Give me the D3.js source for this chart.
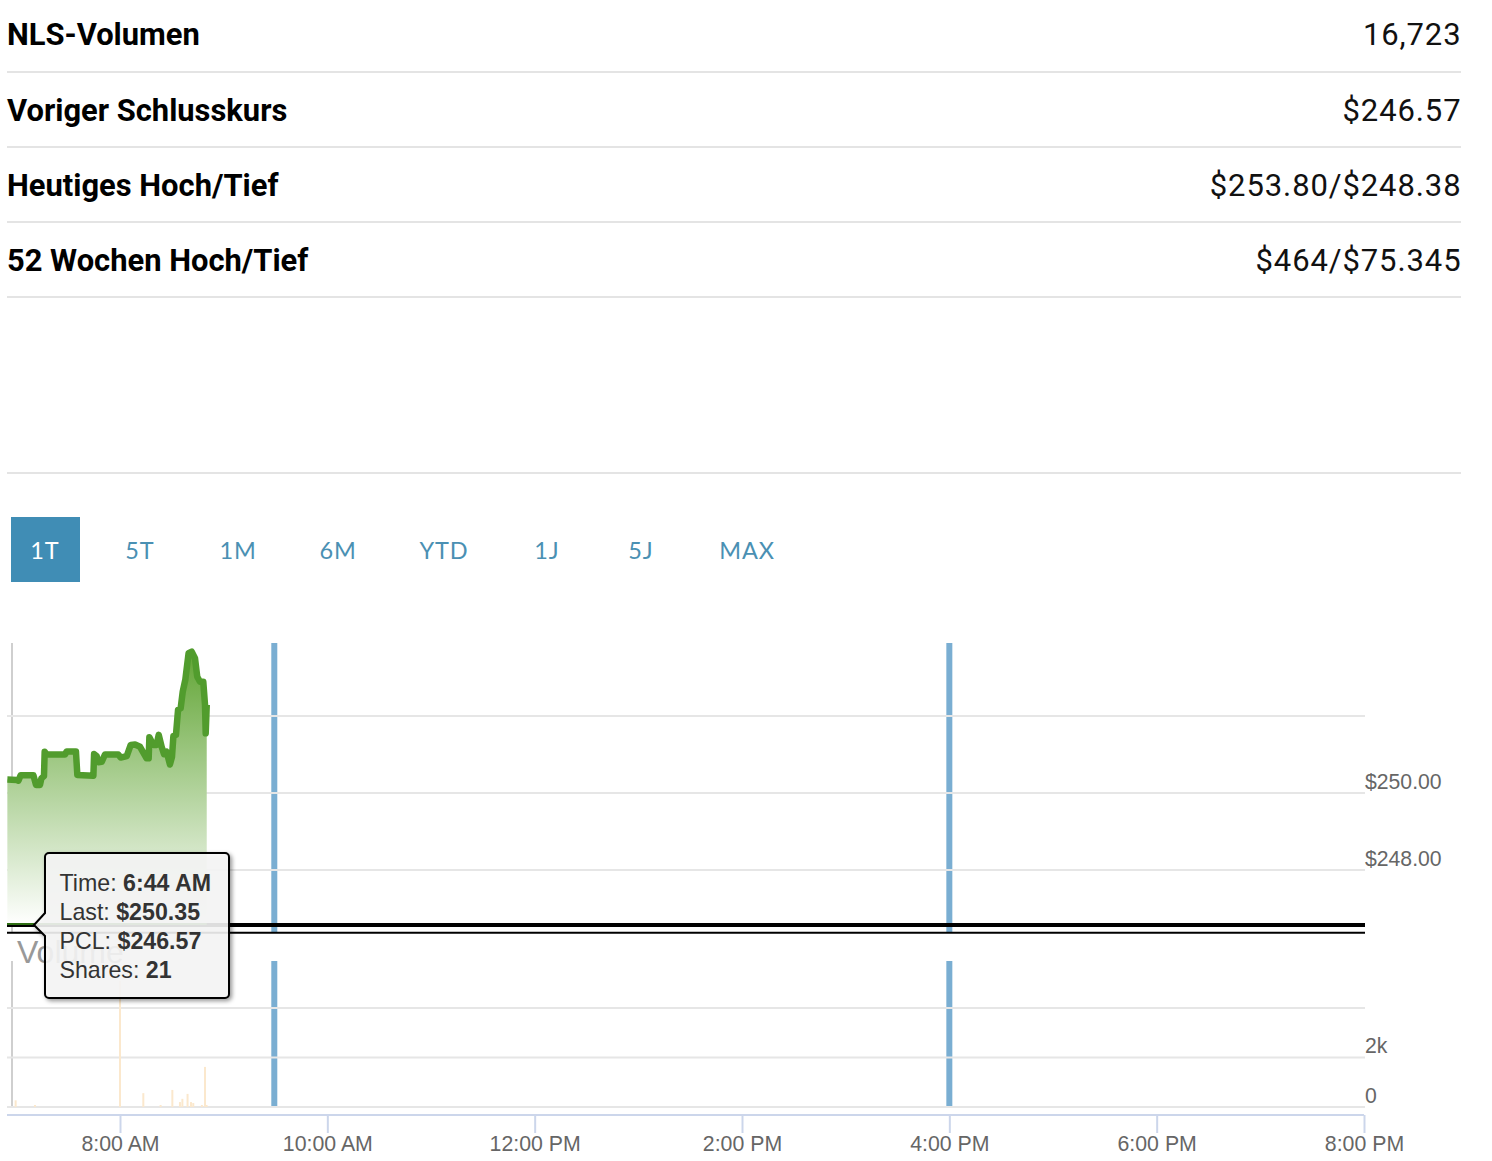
<!DOCTYPE html>
<html>
<head>
<meta charset="utf-8">
<script src="https://cdn.jsdelivr.net/npm/d3@7"></script>
<style>
  html, body { margin: 0; padding: 0; background: #fff; }
  svg { display: block; }
</style>
</head>
<body>
<svg id="chart" width="1492" height="1161"></svg>
<script>
(() => {
  const STAT_LABELS = ["NLS-Volumen", "Voriger Schlusskurs", "Heutiges Hoch/Tief", "52 Wochen Hoch/Tief"];
  const STAT_VALUES = ["16,723", "$246.57", "$253.80/$248.38", "$464/$75.345"];
  const TABS = ["1T", "5T", "1M", "6M", "YTD", "1J", "5J", "MAX"];

  // minutes since midnight
  const PRICE_TIMES = [414.8, 420.2, 421.2, 422.5, 429.9, 431.4, 433.7, 434.5, 436.0, 436.4, 437.6, 448.2, 449.1,
    454.5, 455.3, 464.6, 465.0, 466.5, 467.5, 469.4, 471.3, 479.0, 480.4, 483.9, 486.2, 488.7, 491.6, 495.4, 496.6,
    497.0, 499.3, 501.2, 502.4, 504.1, 505.5, 507.0, 508.9, 510.1, 510.9, 512.4, 513.6, 515.1, 516.3, 517.8, 519.7,
    521.5, 523.4, 524.7, 526.3, 528.2, 529.2, 529.6, 530.2];
  const PRICES = [250.35, 250.34, 250.32, 250.46, 250.46, 250.21, 250.21, 250.38, 250.44, 251.07, 251.00, 251.00, 251.08,
    251.08, 250.47, 250.45, 251.01, 250.96, 250.80, 250.81, 251.00, 251.00, 250.92, 250.96, 251.25, 251.26, 251.20, 250.90, 250.90,
    251.45, 251.25, 251.25, 251.51, 251.20, 251.01, 251.07, 250.74, 250.94, 251.48, 251.51, 252.16, 252.20, 252.63, 252.94, 253.63,
    253.67, 253.50, 253.02, 252.89, 252.89, 252.29, 251.55, 252.29];

  const VOLUME_TIMES = [419.6, 430.8, 480, 493.5, 503.5, 510.3, 514.7, 516.1, 519.1, 521.1, 522.4, 527.4, 529.2, 530.1];
  const VOLUMES = [270, 80, 5100, 560, 80, 690, 200, 330, 530, 200, 160, 80, 1620, 80];

  const TIME_TICKS = [480, 600, 720, 840, 960, 1080, 1200];
  const TIME_LABELS = ["8:00 AM", "10:00 AM", "12:00 PM", "2:00 PM", "4:00 PM", "6:00 PM", "8:00 PM"];
  const PRICE_GRID = [252, 250, 248];
  const PRICE_LABELS = [250, 248];
  const VOLUME_GRID = [4000, 2000, 0];
  const VOLUME_LABELS = [2000, 0];
  const SESSION_LINES = [570, 960];
  const PREV_CLOSE = 246.57;
  const PRICE_FLOOR = 246.37;
  const TOOLTIP_ROWS = [["Time: ", "6:44 AM"], ["Last: ", "$250.35"], ["PCL: ", "$246.57"], ["Shares: ", "21"]];

  const svg = d3.select('#chart');
  const ARIAL = '"Liberation Sans", Arial, sans-serif';

  const x = d3.scaleLinear().domain([480, 1200]).range([120, 1364]);
  const y = d3.scaleLinear().domain([248, 250]).range([870, 793]);
  const yVol = d3.scaleLinear().domain([0, 2000]).range([1107, 1057.5]);

  // stats table
  const rowY = [45, 121, 196, 271];
  var rows = svg.selectAll('g.stat').data(STAT_LABELS).enter().append('g').attr('class', 'stat');
  rows.append('text')
    .attr('x', 7).attr('y', (d, i) => rowY[i])
    .attr('font-family', 'Roboto').attr('font-weight', 700).attr('font-size', 30.9)
    .attr('fill', '#000').text(d => d);
  rows.append('text')
    .attr('x', 1461.5).attr('y', (d, i) => rowY[i]).attr('text-anchor', 'end')
    .attr('font-family', 'Roboto').attr('font-size', 31).attr('letter-spacing', 0.9)
    .attr('fill', '#111').text((d, i) => STAT_VALUES[i]);
  svg.selectAll('line.rule').data([72, 147, 222, 297, 473]).enter().append('line')
    .attr('class', 'rule')
    .attr('x1', 7).attr('x2', 1461).attr('y1', d => d).attr('y2', d => d)
    .attr('stroke', '#e4e4e4').attr('stroke-width', 2);

  // range tabs
  svg.append('rect').attr('x', 11).attr('y', 517).attr('width', 69).attr('height', 65).attr('fill', '#408db5');
  const tabCenters = [45, 140, 238, 338, 444, 547, 641, 747];
  svg.selectAll('text.tab').data(TABS).enter().append('text')
    .attr('class', 'tab')
    .attr('x', (d, i) => tabCenters[i]).attr('y', 559).attr('text-anchor', 'middle')
    .attr('font-family', 'Lato').attr('font-size', 23.5).attr('letter-spacing', 0.9)
    .attr('fill', (d, i) => i == 0 ? '#fff' : '#4a90b3').text(d => d);

  // defs
  const defs = svg.append('defs');
  const grad = defs.append('linearGradient').attr('id', 'priceFill')
    .attr('gradientUnits', 'userSpaceOnUse').attr('x1', 0).attr('x2', 0).attr('y1', 650).attr('y2', 925);
  grad.append('stop').attr('offset', 0).attr('stop-color', '#60a433');
  grad.append('stop').attr('offset', 1).attr('stop-color', '#fff');
  const shadow = defs.append('filter').attr('id', 'tipShadow')
    .attr('x', '-10%').attr('y', '-10%').attr('width', '125%').attr('height', '125%');
  shadow.append('feDropShadow').attr('dx', 2).attr('dy', 2).attr('stdDeviation', 2)
    .attr('flood-color', '#000').attr('flood-opacity', 0.45);
  defs.append('clipPath').attr('id', 'plotClip').append('rect')
    .attr('x', 7).attr('y', 640).attr('width', 1358).attr('height', 300);

  // left borders and session markers, grid goes on top of them
  [[643, 933], [961, 1107]].forEach(p => {
    svg.append('line').attr('x1', 12).attr('x2', 12).attr('y1', p[0]).attr('y2', p[1])
      .attr('stroke', '#cfcfcf').attr('stroke-width', 2);
    svg.selectAll(null).data(SESSION_LINES).enter().append('line')
      .attr('x1', d => x(d) - (d == 570 ? 1.2 : 0)).attr('x2', d => x(d) - (d == 570 ? 1.2 : 0))
      .attr('y1', p[0]).attr('y2', p[1])
      .attr('stroke', '#7aaed2').attr('stroke-width', 6);
  });

  // grid
  svg.selectAll('line.pgrid').data(PRICE_GRID).enter().append('line')
    .attr('class', 'pgrid')
    .attr('x1', 7).attr('x2', 1365).attr('y1', d => y(d)).attr('y2', d => y(d))
    .attr('stroke', '#e6e6e6').attr('stroke-width', 2);
  svg.selectAll('line.vgrid').data(VOLUME_GRID).enter().append('line')
    .attr('class', 'vgrid')
    .attr('x1', 7).attr('x2', 1365).attr('y1', d => yVol(d)).attr('y2', d => yVol(d))
    .attr('stroke', '#e6e6e6').attr('stroke-width', 2);

  // price labels
  svg.selectAll('text.plabel').data(PRICE_LABELS).enter().append('text')
    .attr('class', 'plabel')
    .attr('x', 1365).attr('y', d => y(d) - 4.5)
    .attr('font-family', ARIAL).attr('font-size', 21.2).attr('fill', '#666')
    .text(d => '$' + d3.format('.2f')(d));
  svg.selectAll('text.vlabel').data(VOLUME_LABELS).enter().append('text')
    .attr('class', 'vlabel')
    .attr('x', 1365).attr('y', d => d == 0 ? yVol(d) - 4 : yVol(d) - 4.5)
    .attr('font-family', ARIAL).attr('font-size', 21.2).attr('fill', '#666')
    .text(d => d == 0 ? '0' : (d / 1000) + 'k');

  // price series
  const series = PRICE_TIMES.map((t, i) => ({ t: t, p: PRICES[i] }));
  const plot = svg.append('g').attr('clip-path', 'url(#plotClip)');
  const lastT = PRICE_TIMES[PRICE_TIMES.length - 1];
  plot.append('path')
    .attr('d', d3.area().x(d => x(d.t)).y0(y(PREV_CLOSE)).y1(d => y(d.p))(series))
    .attr('fill', 'url(#priceFill)');
  plot.append('line')
    .attr('x1', 7).attr('x2', 1365).attr('y1', y(PREV_CLOSE)).attr('y2', y(PREV_CLOSE))
    .attr('stroke', '#000').attr('stroke-width', 4);
  plot.append('line')
    .attr('x1', 7).attr('x2', x(lastT)).attr('y1', y(PREV_CLOSE) - 1).attr('y2', y(PREV_CLOSE) - 1)
    .attr('stroke', '#2f6f14').attr('stroke-width', 2);
  svg.append('line')
    .attr('x1', 7).attr('x2', 1365).attr('y1', y(PRICE_FLOOR)).attr('y2', y(PRICE_FLOOR))
    .attr('stroke', '#000').attr('stroke-width', 2);
  plot.append('path')
    .attr('d', d3.line().x(d => x(d.t)).y(d => y(d.p))(series))
    .attr('fill', 'none').attr('stroke', '#519c2d').attr('stroke-width', 6.5)
    .attr('stroke-linejoin', 'round');

  // volume
  svg.selectAll('line.vol').data(VOLUMES).enter().append('line')
    .attr('class', 'vol')
    .attr('x1', (d, i) => x(VOLUME_TIMES[i])).attr('x2', (d, i) => x(VOLUME_TIMES[i]))
    .attr('y1', yVol(0)).attr('y2', d => yVol(d))
    .attr('stroke', '#fbe8cd').attr('stroke-width', 2);
  svg.append('text').attr('x', 17).attr('y', 963)
    .attr('font-family', ARIAL).attr('font-size', 32).attr('fill', '#999').text('Volume');

  // x axis
  const axis = svg.append('g').attr('transform', 'translate(0,1115)')
    .call(d3.axisBottom(x).tickValues(TIME_TICKS).tickSize(18).tickPadding(3)
      .tickFormat((d, i) => TIME_LABELS[i]));
  axis.select('.domain').attr('d', 'M7,0H' + x(1200)).attr('stroke', '#ccd6eb').attr('stroke-width', 2);
  axis.selectAll('.tick line').attr('stroke', '#ccd6eb').attr('stroke-width', 2);
  axis.selectAll('.tick text').attr('font-family', ARIAL).attr('font-size', 21.3).attr('fill', '#666');

  // tooltip
  const tip = svg.append('g');
  tip.append('path')
    .attr('d', 'M49,853H225a4,4 0 0 1 4,4V994a4,4 0 0 1 -4,4H49a4,4 0 0 1 -4,-4V936L34,925L45,913V857a4,4 0 0 1 4,-4Z')
    .attr('fill', 'rgb(250,250,250)').attr('fill-opacity', 0.85)
    .attr('stroke', '#000').attr('stroke-width', 2).attr('filter', 'url(#tipShadow)');
  var lines = tip.selectAll('text').data(TOOLTIP_ROWS).enter().append('text')
    .attr('x', 59.5).attr('y', (d, i) => 891 + i * 29)
    .attr('font-family', ARIAL).attr('font-size', 23.2).attr('fill', '#333');
  lines.append('tspan').text(d => d[0]);
  lines.append('tspan').attr('font-weight', 700).text(d => d[1]);
})();
</script>
</body>
</html>
